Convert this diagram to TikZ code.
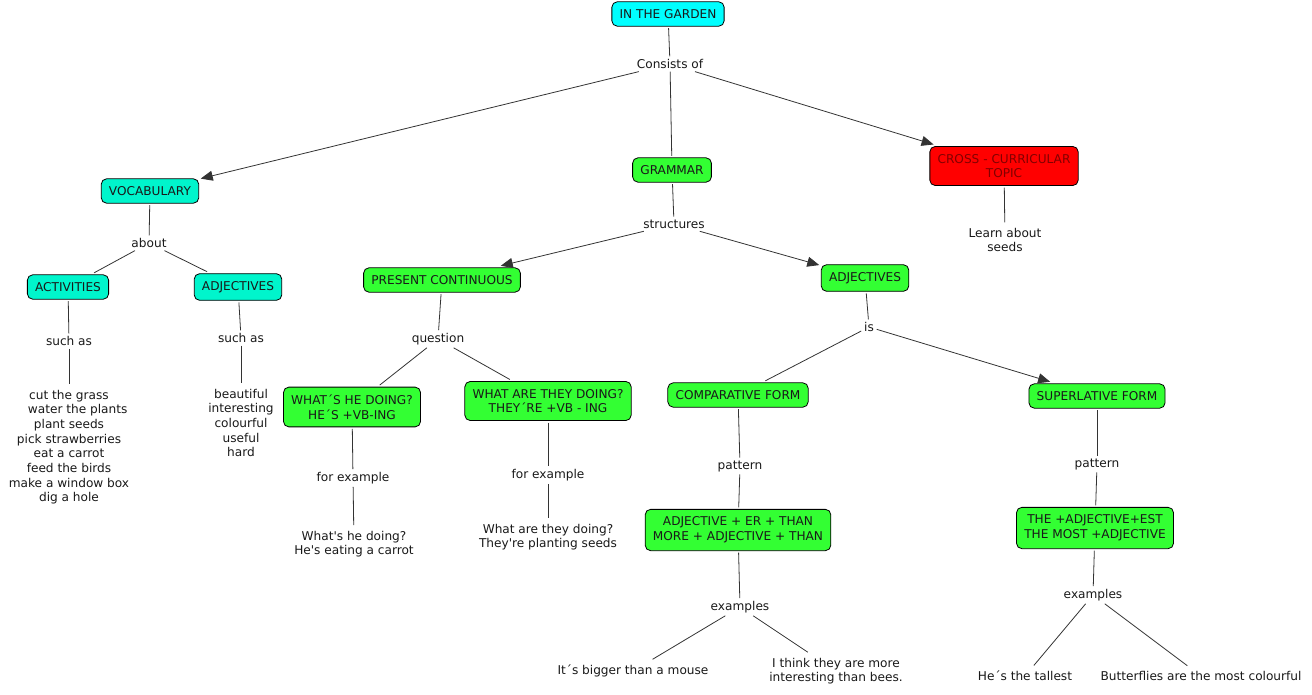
\documentclass[tikz,border=0pt]{standalone}
\usepackage{fontspec}
\setmainfont{DejaVu Sans}
\usetikzlibrary{arrows.meta}
\definecolor{gardencyan}{RGB}{0,255,255}
\definecolor{vocabaqua}{RGB}{0,245,204}
\definecolor{grammargreen}{RGB}{51,255,51}
\definecolor{crossred}{RGB}{255,0,0}
\definecolor{crosstext}{RGB}{130,0,0}
\begin{document}
\begin{tikzpicture}[x=0.75pt,y=-0.75pt,>={Triangle[length=9pt,width=7.5pt]},line join=round,font=\fontsize{9.1pt}{11pt}\selectfont,
	concept/.style={draw=black,rounded corners=4pt,line width=0.6pt,inner xsep=5.8pt,inner ysep=5.7pt,outer sep=1.5pt,align=center,text=black!90},
	phrase/.style={inner sep=2pt,align=center,text=black!90},
	plain/.style={inner sep=4pt,align=center,text=black!90},
	link/.style={line width=0.6pt,draw=black!80}]
	\useasboundingbox (0,0) rectangle (1312,695);
	%Khái niệm chính
	\node[concept,fill=gardencyan] (garden) at (668,14) {IN THE GARDEN};
	\node[phrase] (consists) at (670,64) {Consists of};
	\node[concept,fill=vocabaqua] (vocab) at (150,191) {VOCABULARY};
	\node[concept,fill=grammargreen] (grammar) at (672,170) {GRAMMAR};
	\node[concept,fill=crossred,text=crosstext] (cross) at (1004,166) {CROSS - CURRICULAR\\TOPIC};
	%Từ vựng
	\node[phrase] (about) at (149,243) {about};
	\node[concept,fill=vocabaqua] (activities) at (68,287) {ACTIVITIES};
	\node[concept,fill=vocabaqua] (adjv) at (238,287) {ADJECTIVES};
	\node[phrase] (suchasA) at (69,341) {such as};
	\node[phrase] (suchasB) at (241,338) {such as};
	\node[plain] (actlist) at (69,447) {cut the grass\\\hspace*{13pt}water the plants\\plant seeds\\pick strawberries\\eat a carrot\\feed the birds\\make a window box\\dig a hole};
	\node[plain] (adjlist) at (241,423) {beautiful\\interesting\\colourful\\useful\\hard};
	\node[plain] (learn) at (1005,240) {Learn about\\seeds};
	%Ngữ pháp
	\node[phrase] (structures) at (674,224) {structures};
	\node[concept,fill=grammargreen] (prescont) at (442,280) {PRESENT CONTINUOUS};
	\node[concept,fill=grammargreen] (adjg) at (865,278) {ADJECTIVES};
	\node[phrase] (question) at (438,339) {question};
	\node[concept,fill=grammargreen] (whathe) at (352,407) {WHAT´S HE DOING?\\HE´S +VB-ING};
	\node[concept,fill=grammargreen] (whatthey) at (548,401) {WHAT ARE THEY DOING?\\THEY´RE +VB - ING};
	\node[phrase] (forexA) at (353,478) {for example};
	\node[phrase] (forexB) at (548,475) {for example};
	\node[plain] (exhe) at (354,544) {What\textquotesingle s he doing?\\He\textquotesingle s eating a carrot};
	\node[plain] (exthey) at (548,537) {What are they doing?\\They\textquotesingle re planting seeds};
	\node[phrase] (is) at (869,327) {is};
	\node[concept,fill=grammargreen] (comp) at (738,395) {COMPARATIVE FORM};
	\node[concept,fill=grammargreen] (sup) at (1097,396) {SUPERLATIVE FORM};
	\node[phrase] (patA) at (740,466) {pattern};
	\node[phrase] (patB) at (1097,464) {pattern};
	\node[concept,fill=grammargreen] (compbox) at (738,530) {ADJECTIVE + ER + THAN\\MORE + ADJECTIVE + THAN};
	\node[concept,fill=grammargreen] (supbox) at (1095,528) {THE +ADJECTIVE+EST\\THE MOST +ADJECTIVE};
	\node[phrase] (exsA) at (740,607) {examples};
	\node[phrase] (exsB) at (1093,595) {examples};
	\node[plain] (bigger) at (633,671) {It´s bigger than a mouse};
	\node[plain] (bees) at (836,671) {I think they are more\\interesting than bees.};
	\node[plain] (tallest) at (1025,676) {He´s the tallest};
	\node[plain] (butterflies) at (1201,676) {Butterflies are the most colourful};
	%Đường nối
	\foreach \a/\b in {garden/consists,consists/grammar,vocab/about,about/activities,about/adjv,
		activities/suchasA,suchasA/actlist,adjv/suchasB,suchasB/adjlist,cross/learn,
		grammar/structures,prescont/question,question/whathe,question/whatthey,
		whathe/forexA,forexA/exhe,whatthey/forexB,forexB/exthey,adjg/is,is/comp,
		comp/patA,patA/compbox,sup/patB,patB/supbox,compbox/exsA,exsA/bigger,exsA/bees,
		supbox/exsB,exsB/tallest,exsB/butterflies}
		\draw[link] (\a)--(\b);
	\foreach \a/\b in {consists/vocab,consists/cross,structures/prescont,structures/adjg,is/sup}
		\draw[link,->] (\a)--(\b);
\end{tikzpicture}
\end{document}
